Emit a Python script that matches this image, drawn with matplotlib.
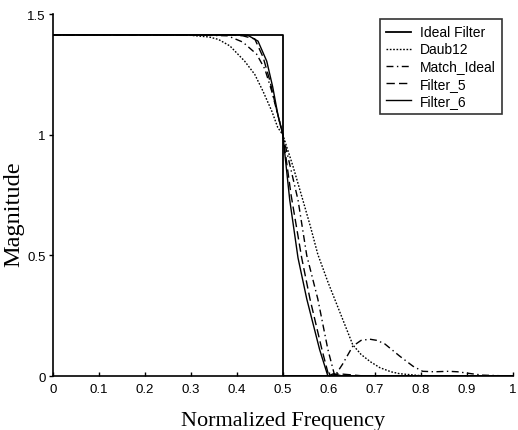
import numpy as np
import matplotlib
matplotlib.use("Agg")
import matplotlib.pyplot as plt

ideal_f = [0.0, 0.5, 0.5, 1.0]
ideal_m = [1.4142, 1.4142, 0.0, 0.0]

daub_f = [0.0, 0.2, 0.3, 0.34, 0.36, 0.385, 0.417, 0.439, 0.457, 0.476, 0.489, 0.5,
          0.522, 0.541, 0.56, 0.576, 0.598, 0.624, 0.652, 0.67, 0.69, 0.711, 0.735,
          0.754, 0.8, 1.0]
daub_m = [1.4142, 1.4142, 1.412, 1.405, 1.395, 1.368, 1.305, 1.25, 1.18, 1.098, 1.03, 1.0,
          0.87, 0.746, 0.62, 0.505, 0.39, 0.265, 0.13, 0.09, 0.06, 0.035, 0.018,
          0.01, 0.002, 0.0]

match_f = [0.0, 0.3, 0.38, 0.413, 0.443, 0.461, 0.476, 0.487, 0.5, 0.533, 0.552, 0.576,
           0.598, 0.613, 0.63, 0.652, 0.67, 0.689, 0.705, 0.722, 0.754, 0.783, 0.804,
           0.83, 0.86, 0.88, 0.91, 0.935, 1.0]
match_m = [1.4142, 1.4142, 1.41, 1.384, 1.334, 1.272, 1.18, 1.098, 1.0, 0.73, 0.5, 0.32,
           0.11, 0.0, 0.05, 0.124, 0.148, 0.153, 0.148, 0.133, 0.083, 0.041, 0.02,
           0.018, 0.02, 0.018, 0.01, 0.004, 0.0]

f5_f = [0.0, 0.38, 0.413, 0.439, 0.457, 0.472, 0.485, 0.5, 0.518, 0.541, 0.559, 0.585,
        0.6, 0.62, 0.65, 0.68, 1.0]
f5_m = [1.4142, 1.4142, 1.41, 1.397, 1.322, 1.223, 1.115, 1.0, 0.75, 0.49, 0.32, 0.11,
        0.0, 0.01, 0.005, 0.0, 0.0]

f6_f = [0.0, 0.41, 0.424, 0.446, 0.465, 0.478, 0.489, 0.5, 0.515, 0.533, 0.552, 0.58,
        0.598, 0.61, 0.63, 1.0]
f6_m = [1.4142, 1.4142, 1.412, 1.388, 1.305, 1.198, 1.086, 1.0, 0.73, 0.49, 0.32, 0.11,
        0.0, 0.01, 0.0, 0.0]

xticks = [0, 0.1, 0.2, 0.3, 0.4, 0.5, 0.6, 0.7, 0.8, 0.9, 1]
xtick_labels = ["0", "0.1", "0.2", "0.3", "0.4", "0.5", "0.6", "0.7", "0.8", "0.9", "1"]
yticks = [0, 0.5, 1, 1.5]
ytick_labels = ["0", "0.5", "1", "1.5"]

fig = plt.figure(figsize=(5.18, 4.31), dpi=100)
ax = fig.add_axes([0.102, 0.125, 0.888, 0.840])

ax.plot(ideal_f, ideal_m, color="black", lw=1.3, label="Ideal Filter")
ax.plot(daub_f, daub_m, color="black", lw=1.0, linestyle=(0, (1.2, 1.2)), label="Daub12")
ax.plot(match_f, match_m, color="black", lw=1.0, linestyle=(0, (5, 2.5, 1, 2.5)), label="Match_Ideal")
ax.plot(f5_f, f5_m, color="black", lw=1.0, linestyle=(0, (6, 3)), label="Filter_5")
ax.plot(f6_f, f6_m, color="black", lw=1.0, label="Filter_6")

ax.set_xlim(0, 1)
ax.set_ylim(0, 1.5)
ax.set_xticks(xticks)
ax.set_xticklabels(xtick_labels, family="Liberation Sans", fontsize=9.5)
ax.set_yticks(yticks)
ax.set_yticklabels(ytick_labels, family="Liberation Sans", fontsize=9.5)
ax.tick_params(axis="y", direction="out", length=3, width=1, pad=2)
ax.tick_params(axis="x", direction="in", length=3, width=1, pad=5)
ax.spines["top"].set_visible(False)
ax.spines["right"].set_visible(False)
ax.spines["left"].set_linewidth(1.2)
ax.spines["bottom"].set_linewidth(1.2)

ax.set_xlabel("Normalized Frequency", family="Liberation Serif", fontsize=16)
ax.xaxis.set_label_coords(0.5, -0.095)
ax.set_ylabel("Magnitude", family="Liberation Serif", fontsize=17.5)
ax.yaxis.set_label_coords(-0.062, 0.45)

leg = ax.legend(loc="upper right", bbox_to_anchor=(0.976, 0.986), borderaxespad=0,
                frameon=True, fancybox=False, edgecolor="black",
                prop={"family": "Liberation Sans", "size": 10},
                handlelength=1.8, labelspacing=0.22, borderpad=0.45, handletextpad=0.6)
leg.get_frame().set_linewidth(1.2)

fig.savefig("out.png", dpi=100)
